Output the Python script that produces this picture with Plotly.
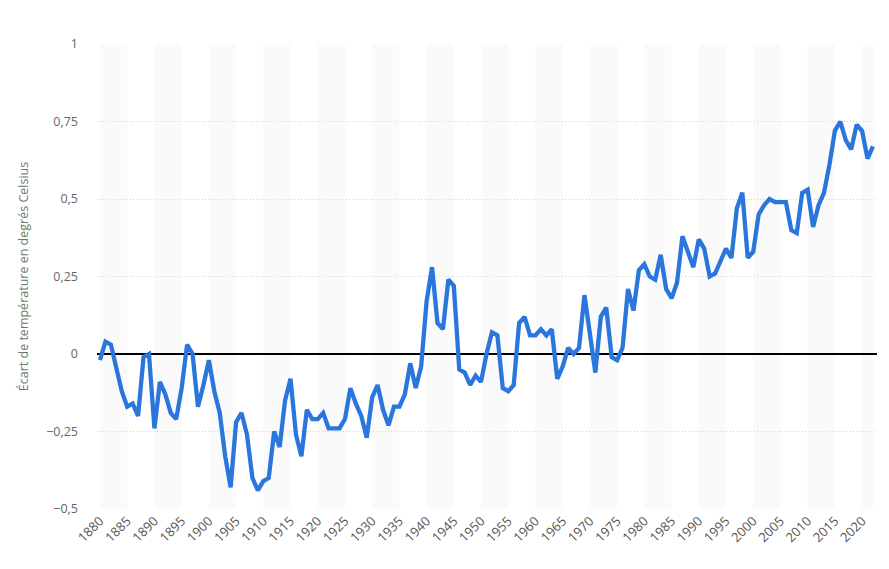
import plotly.graph_objects as go

years = list(range(1880, 2023))
anomaly = [
    -0.02, 0.04, 0.03, -0.04, -0.12, -0.17, -0.16, -0.20, -0.01, 0.00,   # 1880-1889
    -0.24, -0.09, -0.13, -0.19, -0.21, -0.11, 0.03, 0.00, -0.17, -0.10,   # 1890-1899
    -0.02, -0.12, -0.19, -0.33, -0.43, -0.22, -0.19, -0.26, -0.40, -0.44, # 1900-1909
    -0.41, -0.40, -0.25, -0.30, -0.15, -0.08, -0.26, -0.33, -0.18, -0.21, # 1910-1919
    -0.21, -0.19, -0.24, -0.24, -0.24, -0.21, -0.11, -0.16, -0.20, -0.27, # 1920-1929
    -0.14, -0.10, -0.18, -0.23, -0.17, -0.17, -0.13, -0.03, -0.11, -0.04, # 1930-1939
    0.17, 0.28, 0.10, 0.08, 0.24, 0.22, -0.05, -0.06, -0.10, -0.07,       # 1940-1949
    -0.09, 0.00, 0.07, 0.06, -0.11, -0.12, -0.10, 0.10, 0.12, 0.06,       # 1950-1959
    0.06, 0.08, 0.06, 0.08, -0.08, -0.04, 0.02, 0.00, 0.02, 0.19,         # 1960-1969
    0.07, -0.06, 0.12, 0.15, -0.01, -0.02, 0.02, 0.21, 0.14, 0.27,        # 1970-1979
    0.29, 0.25, 0.24, 0.32, 0.21, 0.18, 0.23, 0.38, 0.33, 0.28,           # 1980-1989
    0.37, 0.34, 0.25, 0.26, 0.30, 0.34, 0.31, 0.47, 0.52, 0.31,           # 1990-1999
    0.33, 0.45, 0.48, 0.50, 0.49, 0.49, 0.49, 0.40, 0.39, 0.52,           # 2000-2009
    0.53, 0.41, 0.48, 0.52, 0.61, 0.72, 0.75, 0.69, 0.66, 0.74,           # 2010-2019
    0.72, 0.63, 0.67,                                                     # 2020-2022
]
y_ticks = [-0.5, -0.25, 0, 0.25, 0.5, 0.75, 1]
y_labels = ["−0,5", "−0,25", "0", "0,25", "0,5", "0,75", "1"]
x_ticks = list(range(1880, 2021, 5))
band_starts = list(range(1880, 2022, 10))

y_title = "Écart de température en degrés Celsius"

fig = go.Figure()

for b in band_starts:
    fig.add_vrect(x0=b, x1=min(b + 5, 2022), fillcolor="#fafafa", line_width=0, layer="below")

fig.add_trace(go.Scatter(
    x=years, y=anomaly, mode="lines",
    line=dict(color="#2a76dd", width=4.3),
    hoverinfo="x+y", showlegend=False,
))

fig.update_layout(
    width=889, height=569,
    margin=dict(l=89, r=20, t=36, b=68),
    paper_bgcolor="white", plot_bgcolor="white",
    font=dict(family="Open Sans, sans-serif", color="#666666"),
    separators=", ",
    xaxis=dict(
        range=[1879.45, 2022.74],
        tickmode="array", tickvals=x_ticks, ticktext=[str(t) for t in x_ticks],
        tickangle=-45, tickfont=dict(size=13, color="#555555"),
        showgrid=False, zeroline=False, showline=False, ticks="",
        ticklabelstandoff=1, automargin=False,
    ),
    yaxis=dict(
        range=[-0.5, 1],
        tickmode="array", tickvals=y_ticks, ticktext=y_labels,
        tickfont=dict(size=12.5, color="#666666"),
        showgrid=True, gridcolor="#d2d2d2", griddash="1px,2px", gridwidth=1,
        zeroline=True, zerolinecolor="#000000", zerolinewidth=1.5,
        showline=False, ticks="",
        ticklabelstandoff=18, automargin=False,
        title=dict(text=y_title, font=dict(size=12.5, color="#6b7a6b"), standoff=14),
    ),
)

fig.write_html("out.html")
